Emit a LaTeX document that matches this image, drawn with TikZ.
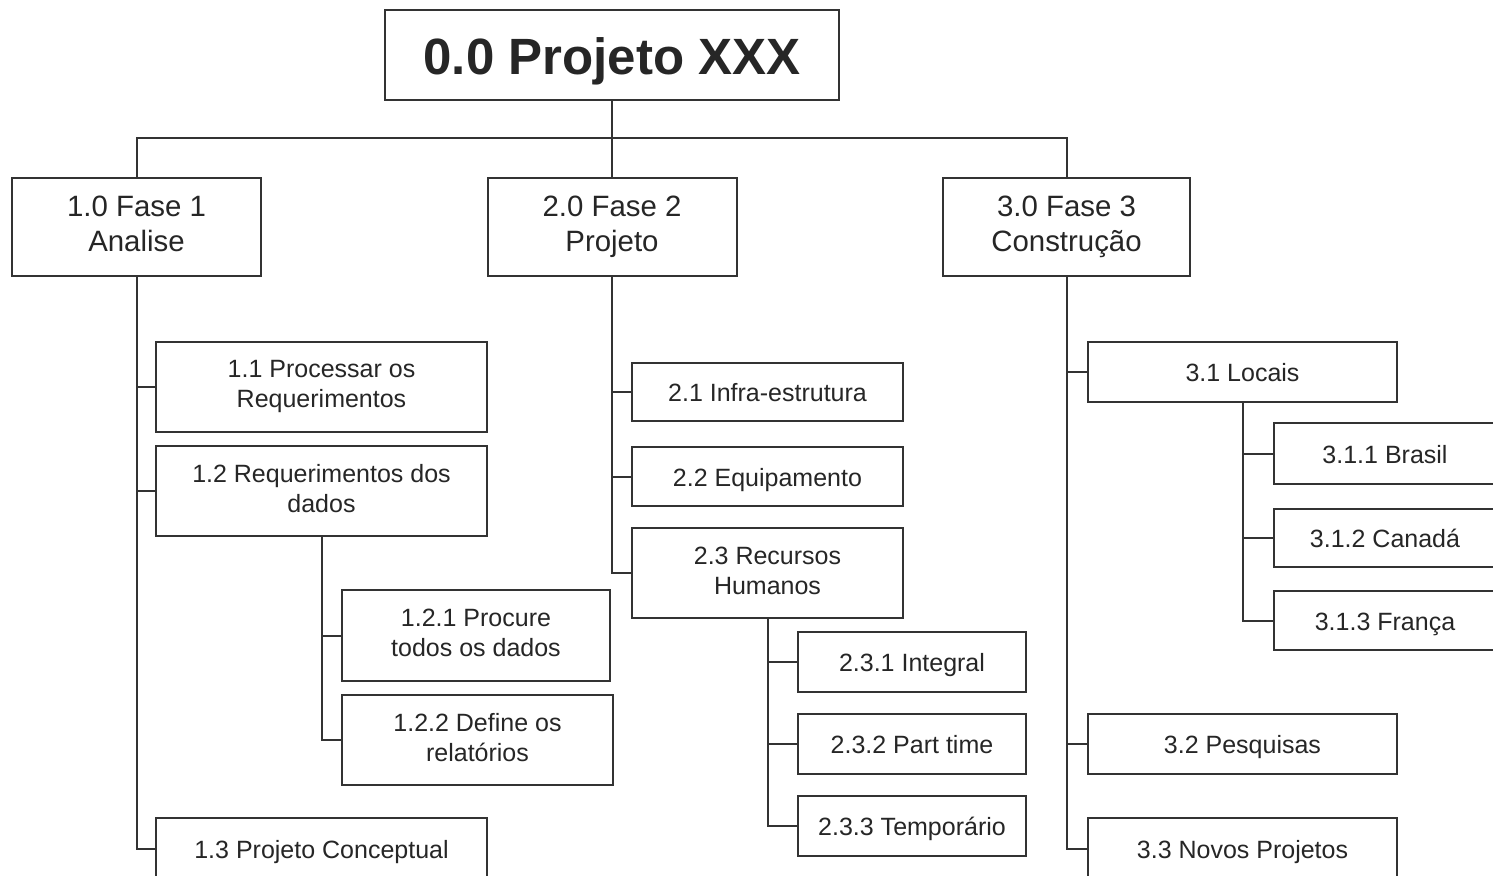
\documentclass[tikz,border=0pt]{standalone}
\usepackage{fontspec}
\setmainfont{Liberation Sans}
\usetikzlibrary{positioning}

\newcommand{\boxstrut}{\rule[-0.18\baselineskip]{0pt}{\baselineskip}}

\tikzset{
  box/.style={draw=black!80, line width=2pt, fill=white, text=black!85, inner sep=0pt, align=center,
    execute at begin node=\boxstrut, execute at end node=\boxstrut},
  topbox/.style={box, font=\fontsize{51}{60}\selectfont\bfseries},
  phasebox/.style={box, minimum width=249pt, minimum height=98pt, font=\fontsize{29.4}{35}\selectfont},
  taskbox/.style={box, font=\fontsize{25}{30}\selectfont},
  link/.style={draw=black!80, line width=2pt}
}

\begin{document}
\begin{tikzpicture}[x=1pt, y=-1pt]
    \useasboundingbox (0,0) rectangle (1493,875);
    \fill [white] (0,0) rectangle (1493,875);
    \clip (0,0) rectangle (1493,875);

    \node [topbox, minimum width=454pt, minimum height=90pt] (root) at (612,55) {0.0 Projeto XXX};
    \node [phasebox] (f1) at (136.5,227) {1.0 Fase 1\\Analise};
    \node [phasebox] (f2) at (612,227) {2.0 Fase 2\\Projeto};
    \node [phasebox, minimum width=247pt] (f3) at (1066.5,227) {3.0 Fase 3\\Construção};
    \coordinate (bus) at (612,138);

    \node [taskbox, minimum width=331pt, minimum height=90pt] (t11) at (321.5,387) {1.1 Processar os\\Requerimentos};
    \node [taskbox, minimum width=331pt, minimum height=90pt] (t12) at (321.5,491) {1.2 Requerimentos dos\\dados};
    \node [taskbox, minimum width=268pt, minimum height=91pt] (t121) at (476,635.5) {1.2.1 Procure\\todos os dados};
    \node [taskbox, minimum width=271pt, minimum height=90pt] (t122) at (477.5,740) {1.2.2 Define os\\relatórios};
    \node [taskbox, minimum width=331pt, minimum height=62pt] (t13) at (321.5,849) {1.3 Projeto Conceptual};

    \node [taskbox, minimum width=271pt, minimum height=58pt] (t21) at (767.5,392) {2.1 Infra-estrutura};
    \node [taskbox, minimum width=271pt, minimum height=59pt] (t22) at (767.5,476.5) {2.2 Equipamento};
    \node [taskbox, minimum width=271pt, minimum height=90pt] (t23) at (767.5,573) {2.3 Recursos\\Humanos};
    \node [taskbox, minimum width=228pt, minimum height=60pt] (t231) at (912,662) {2.3.1 Integral};
    \node [taskbox, minimum width=228pt, minimum height=60pt] (t232) at (912,744) {2.3.2 Part time};
    \node [taskbox, minimum width=228pt, minimum height=60pt] (t233) at (912,826) {2.3.3 Temporário};

    \node [taskbox, minimum width=309pt, minimum height=60pt] (t31) at (1242.5,372) {3.1 Locais};
    \node [taskbox, minimum width=222pt, minimum height=61pt] (t311) at (1385,453.5) {3.1.1 Brasil};
    \node [taskbox, minimum width=222pt, minimum height=58pt] (t312) at (1385,538) {3.1.2 Canadá};
    \node [taskbox, minimum width=222pt, minimum height=59pt] (t313) at (1385,620.5) {3.1.3 França};
    \node [taskbox, minimum width=309pt, minimum height=60pt] (t32) at (1242.5,744) {3.2 Pesquisas};
    \node [taskbox, minimum width=309pt, minimum height=62pt] (t33) at (1242.5,849) {3.3 Novos Projetos};

    \draw [link] (root.south) -- (f2.north);
    \draw [link] (f1.north) |- (bus) -| (f3.north);
    \foreach \c in {t11,t12,t13} \draw [link] (f1.south) |- (\c.west);
    \foreach \c in {t121,t122} \draw [link] (t12.south) |- (\c.west);
    \foreach \c in {t21,t22,t23} \draw [link] (f2.south) |- (\c.west);
    \foreach \c in {t231,t232,t233} \draw [link] (t23.south) |- (\c.west);
    \foreach \c in {t31,t32,t33} \draw [link] (f3.south) |- (\c.west);
    \foreach \c in {t311,t312,t313} \draw [link] (t31.south) |- (\c.west);
\end{tikzpicture}
\end{document}
